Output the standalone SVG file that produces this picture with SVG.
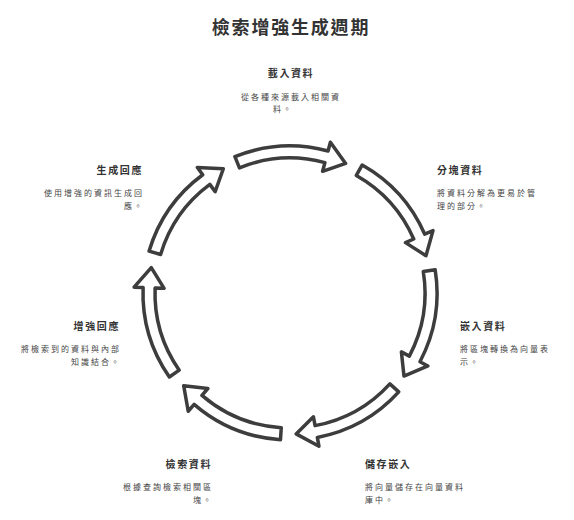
<svg xmlns="http://www.w3.org/2000/svg" width="574" height="520" viewBox="0 0 574 520">
<style>
text{font-family:"Noto Sans CJK TC","Noto Sans CJK SC",sans-serif;}
.title{font-size:18px;font-weight:bold;fill:#333;letter-spacing:1.8px;}
.lbl{font-size:10px;font-weight:bold;fill:#333;letter-spacing:1.6px;}
.desc{font-size:8px;fill:#444;letter-spacing:2px;}
.arr{fill:#fff;stroke:#3d3d3d;stroke-width:3.5;stroke-linejoin:round;}
</style>
<defs>
<path id="arrow" class="arr" d="M -55.07 -136.30 A 147 147 0 0 1 38.05 -141.99 L 40.4 -150.7 L 55.6 -129.6 L 32.6 -121.7 L 34.94 -130.40 A 135 135 0 0 0 -50.57 -125.17 Z"/>
</defs>
<rect width="574" height="520" fill="#fff"/>
<text class="title" x="291" y="34" text-anchor="middle">檢索增強生成週期</text>
<g id="connectors" transform="translate(290,293)">
<use href="#arrow" transform="rotate(0)"/>
<use href="#arrow" transform="rotate(51.43)"/>
<use href="#arrow" transform="rotate(102.86)"/>
<use href="#arrow" transform="rotate(154.29)"/>
<use href="#arrow" transform="rotate(205.71)"/>
<use href="#arrow" transform="rotate(257.14)"/>
<use href="#arrow" transform="rotate(308.57)"/>
</g>
<g id="node-load">
<text class="lbl" x="291" y="77" text-anchor="middle">載入資料</text>
<text class="desc" x="291" y="100" text-anchor="middle">從各種來源載入相關資</text>
<text class="desc" x="283" y="112" text-anchor="middle">料。</text>
</g>
<g id="node-chunk">
<text class="lbl" x="437" y="174">分塊資料</text>
<text class="desc" x="437" y="196">將資料分解為更易於管</text>
<text class="desc" x="437" y="209">理的部分。</text>
</g>
<g id="node-embed">
<text class="lbl" x="460" y="330">嵌入資料</text>
<text class="desc" x="460" y="352">將區塊轉換為向量表</text>
<text class="desc" x="460" y="365">示。</text>
</g>
<g id="node-store">
<text class="lbl" x="365" y="468">儲存嵌入</text>
<text class="desc" x="365" y="490">將向量儲存在向量資料</text>
<text class="desc" x="365" y="503">庫中。</text>
</g>
<g id="node-retrieve">
<text class="lbl" x="212" y="468" text-anchor="end">檢索資料</text>
<text class="desc" x="213" y="490" text-anchor="end">根據查詢檢索相關區</text>
<text class="desc" x="213" y="503" text-anchor="end">塊。</text>
</g>
<g id="node-augment">
<text class="lbl" x="120" y="330" text-anchor="end">增強回應</text>
<text class="desc" x="121" y="352" text-anchor="end">將檢索到的資料與內部</text>
<text class="desc" x="121" y="365" text-anchor="end">知識結合。</text>
</g>
<g id="node-generate">
<text class="lbl" x="143" y="174" text-anchor="end">生成回應</text>
<text class="desc" x="144" y="196" text-anchor="end">使用增強的資訊生成回</text>
<text class="desc" x="144" y="209" text-anchor="end">應。</text>
</g>
</svg>
